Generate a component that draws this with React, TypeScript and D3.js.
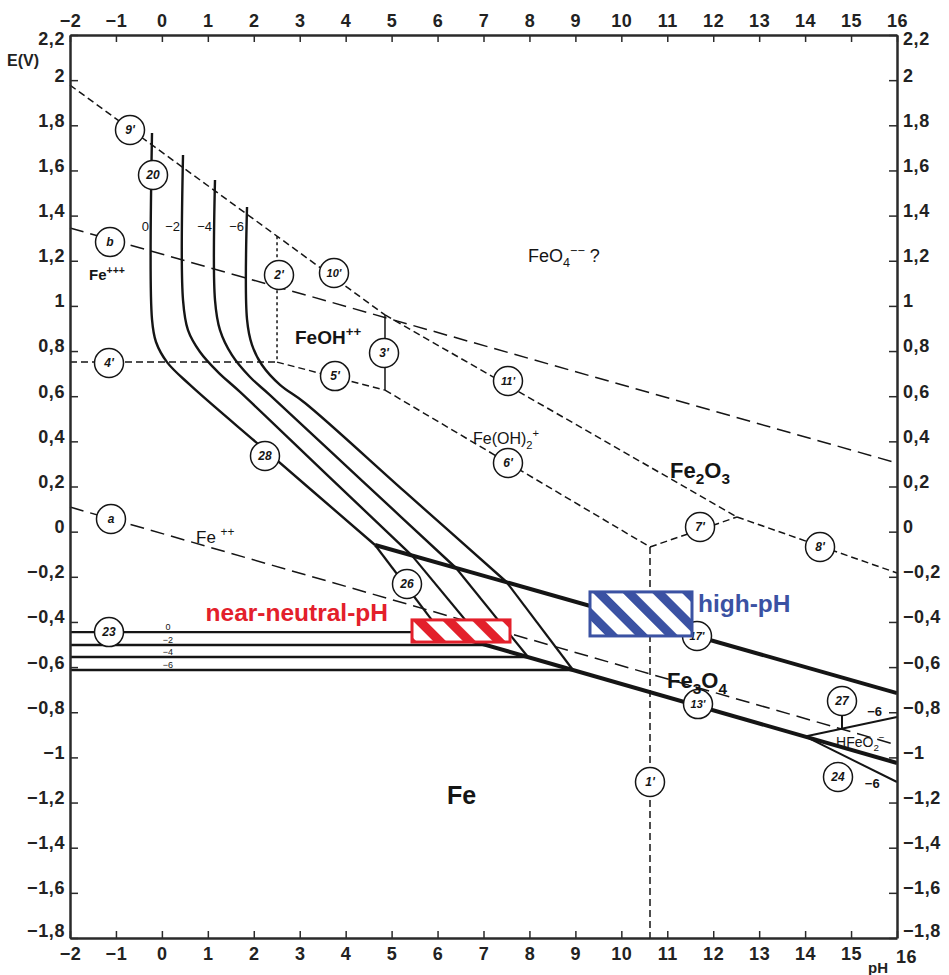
import React, { useEffect, useRef } from "react";
import * as d3 from "d3";

type Pt = [number, number];

// axis ticks
const phTicks = [-2, -1, 0, 1, 2, 3, 4, 5, 6, 7, 8, 9, 10, 11, 12, 13, 14, 15, 16];
const eTicks = [2.2, 2, 1.8, 1.6, 1.4, 1.2, 1, 0.8, 0.6, 0.4, 0.2, 0, -0.2, -0.4, -0.6, -0.8, -1, -1.2, -1.4, -1.6, -1.8];

// log of dissolved iron for each family of lines
const concLabels = ["0", "−2", "−4", "−6"];

// lines 20 + 28 (Fe+++ / Fe++ against Fe2O3), one per concentration
const curves28: Pt[][] = [
  [[-0.215, 1.766], [-0.215, 0.94], [-0.128, 0.84], [0.111, 0.751], [0.612, 0.65], [2.244, 0.362], [4.639, -0.059]],
  [[0.46, 1.668], [0.46, 1.026], [0.568, 0.893], [0.83, 0.796], [1.221, 0.707], [1.7, 0.619], [3.572, 0.256], [5.444, -0.106]],
  [[1.156, 1.558], [1.156, 1.026], [1.265, 0.893], [1.526, 0.782], [1.918, 0.685], [2.353, 0.605], [4.377, 0.222], [6.402, -0.161]],
  [[1.853, 1.438], [1.853, 0.94], [1.961, 0.827], [2.179, 0.738], [2.571, 0.65], [3.115, 0.57], [5.292, 0.176], [7.501, -0.223]],
];

// line 26 (Fe++ / Fe3O4)
const lines26: Pt[][] = [
  [[4.639, -0.059], [6.075, -0.445]],
  [[5.444, -0.106], [7.055, -0.502]],
  [[6.402, -0.161], [7.969, -0.555]],
  [[7.501, -0.223], [8.948, -0.613]],
];

// line 23 (Fe++ / Fe), potential of each horizontal
const lines23E = [-0.445, -0.502, -0.555, -0.613];

// thick boundaries: 17 (Fe2O3/Fe3O4) and 13 (Fe3O4/Fe)
const thickLines: Pt[][] = [
  [[4.639, -0.059], [16, -0.715]],
  [[6.075, -0.445], [16, -1.025]],
];

// thin solid: 3', 27, 24 and the leader of circle 27
const thinLines: Pt[][] = [
  [[4.856, 0.96], [4.856, 0.627]],
  [[14.0, -0.907], [16, -0.821]],
  [[14.0, -0.907], [16, -1.109]],
  [[14.803, -0.812], [14.803, -0.872]],
];

// short dashed: 9'/10', 11', 8', 7', 6', 1', 4', 5'
const dashLines: Pt[][] = [
  [[-2, 1.978], [4.856, 0.96]],
  [[4.856, 0.96], [12.518, 0.065]],
  [[12.518, 0.065], [16, -0.183]],
  [[10.624, -0.068], [12.518, 0.065]],
  [[4.856, 0.627], [10.624, -0.068]],
  [[10.624, -0.068], [10.624, -1.8]],
  [[-2, 0.751], [2.506, 0.751]],
  [[2.506, 0.751], [4.856, 0.627]],
];

// dotted: 2'
const dotLines: Pt[][] = [[[2.506, 1.309], [2.506, 0.751]]];

// water lines b (O2) and a (H2)
const waterLines: Pt[][] = [
  [[-2, 1.345], [16, 0.304]],
  [[-2, 0.109], [16, -0.945]],
];

// circled line numbers
const tags = [
  { t: "9'", ph: -0.694, e: 1.779 },
  { t: "20", ph: -0.193, e: 1.58 },
  { t: "b", ph: -1.129, e: 1.283 },
  { t: "2'", ph: 2.549, e: 1.137 },
  { t: "10'", ph: 3.746, e: 1.146 },
  { t: "4'", ph: -1.151, e: 0.747 },
  { t: "3'", ph: 4.835, e: 0.791 },
  { t: "5'", ph: 3.768, e: 0.689 },
  { t: "11'", ph: 7.533, e: 0.667 },
  { t: "6'", ph: 7.533, e: 0.304 },
  { t: "28", ph: 2.244, e: 0.335 },
  { t: "a", ph: -1.108, e: 0.056 },
  { t: "26", ph: 5.335, e: -0.232 },
  { t: "23", ph: -1.151, e: -0.445 },
  { t: "7'", ph: 11.713, e: 0.021 },
  { t: "8'", ph: 14.325, e: -0.068 },
  { t: "17'", ph: 11.647, e: -0.462 },
  { t: "13'", ph: 11.669, e: -0.764 },
  { t: "1'", ph: 10.624, e: -1.109 },
  { t: "27", ph: 14.803, e: -0.75 },
  { t: "24", ph: 14.716, e: -1.087 },
];

// species names: [text, "n" | "sub" | "sup"]
const species = [
  { id: "feo4", ph: 7.969, e: 1.194, parts: [["FeO", "n"], ["4", "sub"], ["−−", "sup"], [" ?", "n"]] },
  { id: "fe3", ph: -1.586, e: 1.115, parts: [["Fe", "n"], ["+++", "sup"]] },
  { id: "feoh", ph: 2.897, e: 0.831, parts: [["FeOH", "n"], ["++", "sup"]] },
  { id: "feoh2", ph: 6.772, e: 0.388, parts: [["Fe(OH)", "n"], ["2", "sub"], ["+", "sup"]] },
  { id: "fe2o3", ph: 11.06, e: 0.238, parts: [["Fe", "n"], ["2", "sub"], ["O", "n"], ["3", "sub"]] },
  { id: "fe3o4", ph: 10.994, e: -0.693, parts: [["Fe", "n"], ["3", "sub"], ["O", "n"], ["4", "sub"]] },
  { id: "fe", ph: 6.206, e: -1.207, parts: [["Fe", "n"]] },
  { id: "fe2", ph: 0.743, e: -0.05, parts: [["Fe ", "n"], ["++", "sup"]] },
  { id: "hfeo2", ph: 14.673, e: -0.954, parts: [["HFeO", "n"], ["2", "sub"], ["−", "sup"]] },
];

const sideLabels = [
  { t: "−6", ph: 15.35, e: -0.817 },
  { t: "−6", ph: 15.3, e: -1.136 },
];

// highlighted corrosion windows
const nearNeutral = { label: "near-neutral-pH", ph: [5.444, 7.577], e: [-0.489, -0.391] };
const highPh = { label: "high-pH", ph: [9.318, 11.538], e: [-0.462, -0.267] };

export default function App() {
  const ref = useRef<SVGSVGElement>(null);

  useEffect(() => {
    const w = 949;
    const h = 975;
    const svg = d3.select(ref.current);
    svg.selectAll("*").remove();

    const x = d3.scaleLinear().domain([-2, 16]).range([70, 897]);
    const y = d3.scaleLinear().domain([-1.8, 2.2]).range([938, 35]);
    const ink = "#151515";
    const font = "'Liberation Sans', Arial, sans-serif";
    const red = "#e3202b";
    const blue = "#3b52a3";

    svg.append("rect").attr("width", w).attr("height", h).attr("fill", "#fff");

    // hatch patterns for the two windows
    const defs = svg.append("defs");
    const hatch = (id: string, color: string) => {
      const p = defs
        .append("pattern")
        .attr("id", id)
        .attr("patternUnits", "userSpaceOnUse")
        .attr("width", 21)
        .attr("height", 21)
        .attr("patternTransform", "rotate(-45)");
      p.append("rect").attr("width", 21).attr("height", 21).attr("fill", "#fff");
      p.append("rect").attr("width", 9).attr("height", 21).attr("fill", color);
    };
    hatch("hatchRed", red);
    hatch("hatchBlue", blue);

    const line = d3.line<Pt>().x((d) => x(d[0])).y((d) => y(d[1]));
    const smooth = d3
      .line<Pt>()
      .x((d) => x(d[0]))
      .y((d) => y(d[1]))
      .curve(d3.curveCatmullRom.alpha(0.5));

    const draw = (pts: Pt[], width: number, dash: string | null, gen = line) =>
      svg
        .append("path")
        .attr("d", gen(pts))
        .attr("fill", "none")
        .attr("stroke", ink)
        .attr("stroke-width", width)
        .attr("stroke-dasharray", dash);

    // dashed / dotted
    waterLines.forEach((l) => draw(l, 1.5, "14 7"));
    dashLines.forEach((l) => draw(l, 1.5, "7 4"));
    dotLines.forEach((l) => draw(l, 1.5, "3 3"));

    // solid
    thinLines.forEach((l, i) => draw(l, i === 0 ? 1.5 : 2, null));
    curves28.forEach((c) => draw(c, 2.4, null, smooth));
    lines26.forEach((l) => draw(l, 2.2, null));
    lines23E.forEach((e, i) => draw([[-2, e], [lines26[i][1][0], e]], 2.4, null));
    thickLines.forEach((l) => draw(l, 4, null));

    // concentration labels
    curves28.forEach((c, i) =>
      svg
        .append("text")
        .attr("x", x(c[0][0]) - 3)
        .attr("y", y(1.33))
        .attr("text-anchor", "end")
        .attr("font-family", font)
        .attr("font-size", 13)
        .attr("fill", ink)
        .text(concLabels[i])
    );
    lines23E.forEach((e, i) =>
      svg
        .append("text")
        .attr("x", x(0.133))
        .attr("y", y(e) - 2)
        .attr("text-anchor", "middle")
        .attr("font-family", font)
        .attr("font-size", 9)
        .attr("fill", ink)
        .text(concLabels[i])
    );
    sideLabels.forEach((s) =>
      svg
        .append("text")
        .attr("x", x(s.ph))
        .attr("y", y(s.e))
        .attr("font-family", font)
        .attr("font-size", 13)
        .attr("font-weight", "bold")
        .attr("fill", ink)
        .text(s.t)
    );

    // circled numbers
    const tg = svg
      .selectAll("g.tag")
      .data(tags)
      .join("g")
      .attr("class", "tag")
      .attr("transform", (d) => `translate(${x(d.ph)},${y(d.e)})`);
    tg.append("circle").attr("r", 14.5).attr("fill", "#fff").attr("stroke", ink).attr("stroke-width", 1.5);
    tg.append("text")
      .attr("text-anchor", "middle")
      .attr("dy", "0.36em")
      .attr("font-family", font)
      .attr("font-style", "italic")
      .attr("font-weight", "bold")
      .attr("font-size", (d) => (d.t.length > 2 ? 11 : 12))
      .attr("fill", ink)
      .text((d) => d.t);

    // species names
    const speciesStyle: Record<string, [number, string]> = {
      feo4: [18, "normal"],
      fe3: [15, "bold"],
      feoh: [19, "bold"],
      feoh2: [16, "normal"],
      fe2o3: [22, "bold"],
      fe3o4: [22, "bold"],
      fe: [25, "bold"],
      fe2: [17, "normal"],
      hfeo2: [14, "normal"],
    };
    species.forEach((s) => {
      const [size, weight] = speciesStyle[s.id];
      const t = svg
        .append("text")
        .attr("x", x(s.ph))
        .attr("y", y(s.e))
        .attr("font-family", font)
        .attr("font-weight", weight)
        .attr("font-size", size)
        .attr("fill", ink);
      let shift = 0;
      s.parts.forEach(([str, kind]) => {
        const target = kind === "sub" ? size * 0.28 : kind === "sup" ? -size * 0.42 : 0;
        t.append("tspan")
          .attr("dy", target - shift)
          .attr("font-size", kind === "n" ? size : size * 0.7)
          .text(str);
        shift = target;
      });
    });

    // highlighted windows
    const box = (b: typeof nearNeutral, fill: string, color: string) =>
      svg
        .append("rect")
        .attr("x", x(b.ph[0]))
        .attr("y", y(b.e[1]))
        .attr("width", x(b.ph[1]) - x(b.ph[0]))
        .attr("height", y(b.e[0]) - y(b.e[1]))
        .attr("fill", `url(#${fill})`)
        .attr("stroke", color)
        .attr("stroke-width", 3);
    box(nearNeutral, "hatchRed", red);
    box(highPh, "hatchBlue", blue);

    svg
      .append("text")
      .attr("x", x(nearNeutral.ph[0]) - 24)
      .attr("y", y(nearNeutral.e[1]) + 1)
      .attr("text-anchor", "end")
      .attr("font-family", font)
      .attr("font-weight", "bold")
      .attr("font-size", 24.5)
      .attr("fill", red)
      .text(nearNeutral.label);
    svg
      .append("text")
      .attr("x", x(highPh.ph[1]) + 6)
      .attr("y", y(highPh.e[1]) + 20)
      .attr("font-family", font)
      .attr("font-weight", "bold")
      .attr("font-size", 24.5)
      .attr("fill", blue)
      .text(highPh.label);

    // axes, ticks pointing inward
    const fmtE = (v: number) => (v < 0 ? "−" : "") + String(Math.abs(v)).replace(".", ",");
    const fmtPh = (v: number) => (v < 0 ? "−" : "") + Math.abs(v);
    const styleAxis = (g: any) => {
      g.attr("font-family", font).attr("font-size", 18).attr("font-weight", "bold");
      g.select(".domain").attr("stroke", "#2a2a2a").attr("stroke-width", 2.5);
      g.selectAll(".tick line").attr("stroke", "#2a2a2a").attr("stroke-width", 1.5);
      g.selectAll(".tick text").attr("fill", "#222").attr("letter-spacing", 0.6);
    };

    const left = svg
      .append("g")
      .attr("transform", "translate(70,0)")
      .call(d3.axisLeft(y).tickValues(eTicks).tickFormat(fmtE as any).tickSize(-8).tickSizeOuter(0).tickPadding(5))
      .call(styleAxis);
    const right = svg
      .append("g")
      .attr("transform", "translate(897,0)")
      .call(d3.axisRight(y).tickValues(eTicks).tickFormat(fmtE as any).tickSize(-8).tickSizeOuter(0).tickPadding(6))
      .call(styleAxis);
    [left, right].forEach((g) => {
      g.selectAll(".tick text")
        .attr("dy", (d: any) => (d === 2.2 ? "0.55em" : d === -1.8 ? "-0.1em" : "0.05em"));
    });
    svg
      .append("g")
      .attr("transform", "translate(0,35)")
      .call(d3.axisTop(x).tickValues(phTicks).tickFormat(fmtPh as any).tickSize(-7).tickSizeOuter(0).tickPadding(8))
      .call(styleAxis);
    const bottom = svg
      .append("g")
      .attr("transform", "translate(0,938)")
      .call(d3.axisBottom(x).tickValues(phTicks).tickFormat(fmtPh as any).tickSize(-7).tickSizeOuter(0).tickPadding(9))
      .call(styleAxis);
    bottom
      .selectAll(".tick text")
      .filter((d: any) => d === 16)
      .attr("x", 9)
      .attr("y", 12);

    svg
      .append("text")
      .attr("x", 7)
      .attr("y", 66)
      .attr("font-family", font)
      .attr("font-weight", "bold")
      .attr("font-size", 16)
      .attr("fill", "#222")
      .text("E(V)");
    svg
      .append("text")
      .attr("x", 868)
      .attr("y", 973)
      .attr("font-family", font)
      .attr("font-weight", "bold")
      .attr("font-size", 15)
      .attr("fill", "#222")
      .text("pH");
  }, []);

  return (
    <svg
      ref={ref}
      width={949}
      height={975}
      style={{ position: "absolute", left: 0, top: 0, display: "block" }}
    />
  );
}
